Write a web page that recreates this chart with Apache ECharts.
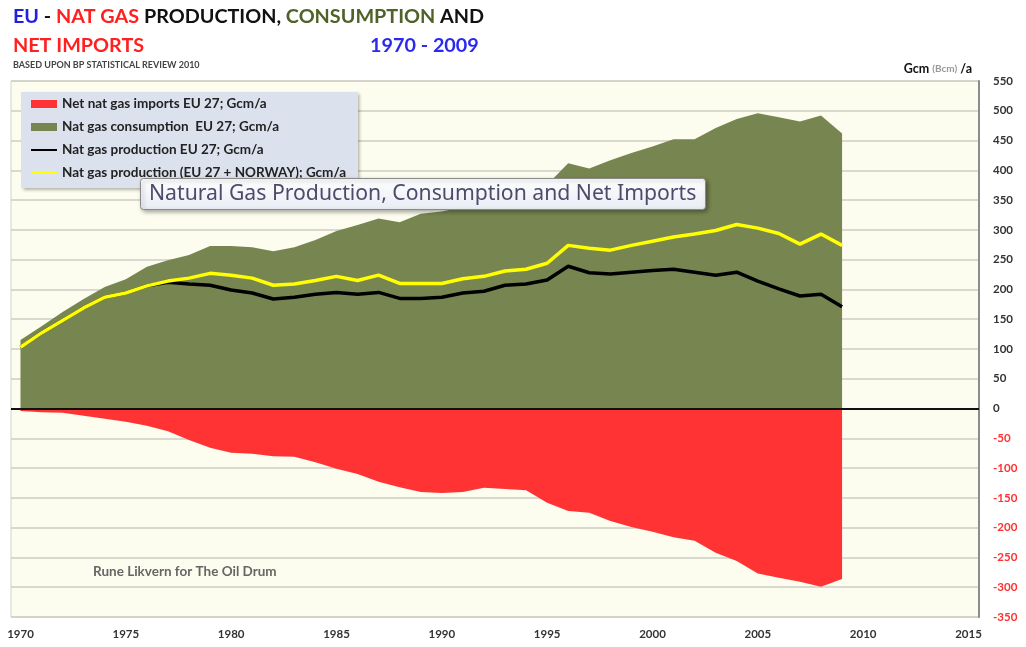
<!DOCTYPE html>
<html>
<head>
<meta charset="utf-8">
<script src="https://cdn.jsdelivr.net/npm/echarts@6/dist/echarts.min.js"></script>
<style>
  html, body { margin: 0; padding: 0; background: #fff; }
  #chart { width: 1026px; height: 647px; }
</style>
</head>
<body>
<div id="chart"></div>
<script>
// years on the x axis
const years = [1970, 1971, 1972, 1973, 1974, 1975, 1976, 1977, 1978, 1979,
  1980, 1981, 1982, 1983, 1984, 1985, 1986, 1987, 1988, 1989,
  1990, 1991, 1992, 1993, 1994, 1995, 1996, 1997, 1998, 1999,
  2000, 2001, 2002, 2003, 2004, 2005, 2006, 2007, 2008, 2009]
// Gcm/a
const netImports = [-4, -6, -7, -12, -17, -22, -29, -38, -53, -66,
  -74, -76, -80, -81, -90, -101, -110, -123, -132, -140,
  -142, -140, -133, -135, -137, -158, -172, -175, -189, -199,
  -207, -216, -222, -242, -256, -277, -284, -291, -299, -286]
const consumption = [115, 138, 162, 184, 204, 217, 238, 249, 258, 273,
  273, 271, 264, 271, 283, 298, 308, 319, 313, 327,
  331, 338, 335, 346, 350, 376, 412, 403, 417, 429,
  440, 452, 452, 471, 486, 496, 489, 482, 492, 462]
const prodEU = [103, 127, 148, 169, 187, 194, 206, 212, 209, 207,
  199, 194, 184, 187, 192, 195, 192, 195, 185, 185,
  187, 194, 197, 207, 209, 216, 239, 228, 226, 229,
  232, 234, 229, 224, 229, 214, 201, 189, 192, 171]
const prodEUNorway = [103, 127, 148, 169, 187, 194, 206, 214, 219, 227,
  224, 219, 207, 209, 215, 222, 215, 224, 210, 210,
  210, 218, 222, 231, 234, 244, 274, 269, 266, 274,
  281, 288, 293, 299, 309, 303, 294, 276, 293, 274]
const xTicks = [1970, 1975, 1980, 1985, 1990, 1995, 2000, 2005, 2010, 2015]

const pairs = arr => years.map((y, i) => [y, arr[i]])

const chart = echarts.init(document.getElementById('chart'))

//标题用的字体
const bold = (color, size) => ({color: color, fontSize: size, fontWeight: 'bold', fontFamily: 'Lato'})

const option = {
  backgroundColor: '#fff',
  animation: false,
  textStyle: {fontFamily: 'Lato'},
  title: [
    {
      left: 13, top: 7, padding: 0,
      text: '{b|EU}{k| - }{r|NAT GAS }{k|PRODUCTION, }{g|CONSUMPTION }{k|AND}',
      textStyle: {
        rich: {
          b: bold('#1f1fe6', 19.8),
          k: bold('#111', 19.8),
          r: bold('#ff2020', 19.8),
          g: bold('#4f6228', 19.8)
        }
      }
    },
    {
      left: 13, top: 36, padding: 0,
      text: 'NET IMPORTS',
      textStyle: bold('#ff2020', 19.8)
    },
    {
      left: 370, top: 36, padding: 0,
      text: '1970 - 2009',
      textStyle: bold('#2a2aee', 19.8)
    },
    {
      left: 13, top: 61, padding: 0,
      text: 'BASED UPON BP STATISTICAL REVIEW 2010',
      textStyle: bold('#444', 9)
    },
    {
      right: 54, top: 62, padding: 0,
      text: '{a|Gcm }{c|(Bcm)}{a| /a}',
      textStyle: {
        rich: {
          a: bold('#111', 12.5),
          c: {color: '#999', fontSize: 10, fontFamily: 'Lato'}
        }
      }
    },
    {
      left: 93, top: 565, padding: 0,
      text: 'Rune Likvern for The Oil Drum',
      textStyle: bold('#666', 13.5)
    },
    {
      left: 140, top: 178,
      text: 'Natural Gas Production, Consumption and Net Imports',
      padding: [5, 9, 6, 9],
      backgroundColor: {
        type: 'linear', x: 0, y: 0, x2: 0, y2: 1,
        colorStops: [{offset: 0, color: '#ffffff'}, {offset: 1, color: '#e8ecf4'}]
      },
      borderColor: '#8a8a8a',
      borderWidth: 1,
      borderRadius: 3,
      shadowColor: 'rgba(0,0,0,0.35)',
      shadowBlur: 4,
      shadowOffsetX: 2,
      shadowOffsetY: 2,
      textStyle: {color: '#4e4a6a', fontSize: 21.2, fontWeight: 'normal', fontFamily: 'Noto Sans'}
    }
  ],
  legend: {
    orient: 'vertical',
    left: 21, top: 92,
    padding: [5, 12, 8, 9],
    itemWidth: 26,
    itemHeight: 8,
    itemGap: 9,
    backgroundColor: '#dbe2ee',
    shadowColor: 'rgba(0,0,0,0.3)',
    shadowBlur: 3,
    shadowOffsetX: 2,
    shadowOffsetY: 2,
    textStyle: bold('#222', 13.5),
    data: [
      {name: 'Net nat gas imports EU 27; Gcm/a', icon: 'rect'},
      {name: 'Nat gas consumption  EU 27; Gcm/a', icon: 'rect'},
      {name: 'Nat gas production EU 27; Gcm/a', itemStyle: {opacity: 0}},
      {name: 'Nat gas production (EU 27 + NORWAY); Gcm/a', itemStyle: {opacity: 0}}
    ]
  },
  grid: {
    left: 11, right: 47, top: 81, bottom: 30,
    show: true,
    backgroundColor: '#fdfdef',
    borderColor: '#d2d2cc',
    borderWidth: 1
  },
  xAxis: {
    type: 'value',
    min: 1969.55,
    max: 2015.5,
    axisLine: {show: false, onZero: false},
    axisTick: {show: false},
    splitLine: {show: false},
    axisLabel: {
      customValues: xTicks,
      formatter: v => String(v),
      margin: 11,
      color: '#333',
      fontSize: 11.5,
      fontWeight: 'bold',
      fontFamily: 'Lato'
    }
  },
  yAxis: {
    type: 'value',
    position: 'right',
    min: -350,
    max: 550,
    interval: 50,
    axisLine: {show: true, lineStyle: {color: '#8c8c8c', width: 2}},
    axisTick: {show: false},
    splitLine: {lineStyle: {color: '#cdcdc4', width: 1.5}},
    axisLabel: {
      margin: 14,
      align: 'left',
      formatter: v => v < 0 ? '{n|' + v + '}' : '{p|' + v + '}',
      rich: {
        p: bold('#333', 11.5),
        n: bold('#ff3030', 11.5)
      }
    }
  },
  series: [
    {
      name: 'Nat gas consumption  EU 27; Gcm/a',
      type: 'line',
      data: pairs(consumption),
      symbol: 'none',
      lineStyle: {width: 0},
      itemStyle: {color: '#778650'},
      areaStyle: {color: '#778650', opacity: 1}
    },
    {
      name: 'Net nat gas imports EU 27; Gcm/a',
      type: 'line',
      data: pairs(netImports),
      symbol: 'none',
      lineStyle: {width: 0},
      itemStyle: {color: '#ff3333'},
      areaStyle: {color: '#ff3333', opacity: 1}
    },
    {
      name: 'Nat gas production EU 27; Gcm/a',
      type: 'line',
      data: pairs(prodEU),
      symbol: 'none',
      itemStyle: {color: '#000'},
      lineStyle: {color: '#000', width: 3.5}
    },
    {
      name: 'Nat gas production (EU 27 + NORWAY); Gcm/a',
      type: 'line',
      data: pairs(prodEUNorway),
      symbol: 'none',
      itemStyle: {color: '#ffff00'},
      lineStyle: {color: '#ffff00', width: 3.5},
      markLine: {
        silent: true,
        symbol: 'none',
        label: {show: false},
        lineStyle: {color: '#111', width: 2, type: 'solid'},
        data: [{yAxis: 0}]
      }
    }
  ]
}

chart.setOption(option)
</script>
</body>
</html>
